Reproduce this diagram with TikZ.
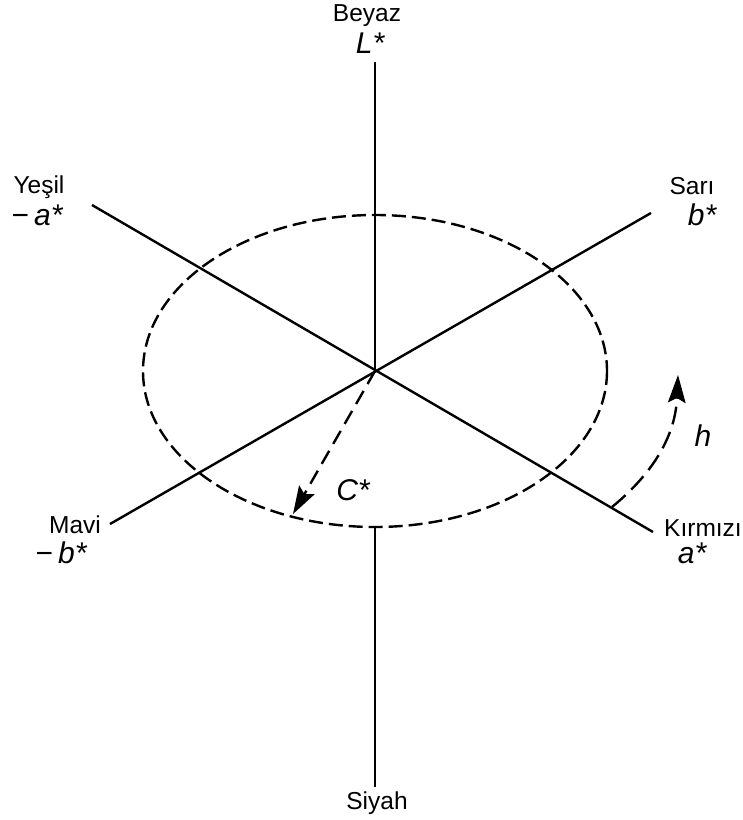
\documentclass[tikz,border=0pt]{standalone}
\usepackage{fontspec}
\setmainfont{Liberation Sans}
\usetikzlibrary{arrows.meta}
\tikzset{
  axis/.style={line width=2.4pt},
  circ/.style={line width=2.4pt, dash pattern=on 14pt off 6pt},
  vec/.style={line width=2.4pt, dash pattern=on 15pt off 8pt, -{Stealth[length=28pt,width=18pt,inset=5pt,line width=0pt]}},
  lbl/.style={inner sep=0pt, font=\fontsize{24.5}{26}\selectfont},
  sym/.style={inner sep=0pt, font=\fontsize{30}{32}\selectfont\itshape},
}
\begin{document}
\begin{tikzpicture}[x=1pt,y=-1pt]
\useasboundingbox (0,0) rectangle (743,820);
\coordinate (O) at (375,371);
\coordinate (T) at (375,62);
\coordinate (B1) at (375,527);
\coordinate (B2) at (375,787);
\coordinate (G) at (92,205);
\coordinate (R) at (653,532);
\coordinate (Y) at (651,213);
\coordinate (M) at (110,524);
\coordinate (hs) at (612,507);
\coordinate (he) at (678,375);
\coordinate (ce) at (293,514);
% axes
\draw[axis] (T) -- (O);
\draw[axis] (B1) -- (B2);
\draw[axis] (G) -- (R);
\draw[axis] (Y) -- (M);
% ellipse
\draw[circ] (O) ellipse [x radius=232, y radius=156];
% vectors
\draw[vec] (O) -- (ce);
\draw[vec, dash pattern=on 18pt off 8pt] (hs) to[bend right=24] (he);
% labels
\node[lbl] (beyaz) at (367,16) {Beyaz};
\node[sym] (L) at (370,43) {L*};
\node[lbl] (yesil) at (39,187) {Yeşil};
\node[sym] (ma) at (37,215) {\upshape−\,\itshape a*};
\node[lbl] (sari) at (692,186) {Sarı};
\node[sym] (b) at (702,215) {b*};
\node[lbl] (mavi) at (75,525) {Mavi};
\node[sym] (mb) at (61,553) {\upshape−\,\itshape b*};
\node[lbl] (kirmizi) at (703,528) {Kırmızı};
\node[sym] (a) at (692,553) {a*};
\node[sym] (h) at (703,436) {h};
\node[sym] (C) at (353,490) {C*};
\node[lbl] (siyah) at (377,803) {Siyah};
\end{tikzpicture}
\end{document}
